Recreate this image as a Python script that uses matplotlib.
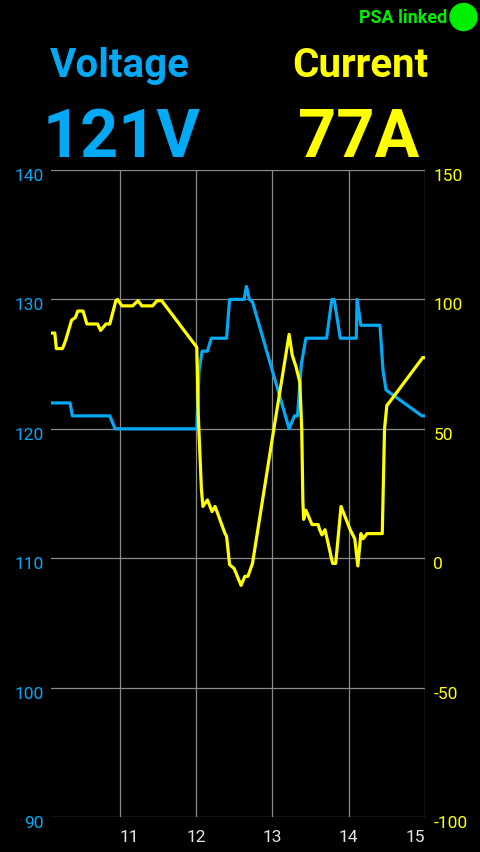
import matplotlib
matplotlib.use("Agg")
import matplotlib.pyplot as plt
from matplotlib.patches import Ellipse
from matplotlib.transforms import ScaledTranslation

# Datos
volt_x = [10.1, 10.35, 10.38, 10.87, 10.94, 12.01, 12.04, 12.08, 12.15, 12.2, 12.4,
          12.44, 12.63, 12.66, 12.7, 12.74, 13.22, 13.29, 13.33, 13.38, 13.44, 13.71,
          13.78, 13.81, 13.89, 14.1, 14.11, 14.16, 14.41, 14.45, 14.49, 14.96, 15.0]
volt_y = [122, 122, 121, 121, 120, 120, 124.5, 126, 126, 127, 127,
          130, 130, 131, 130, 129.8, 120, 121, 121, 125, 127, 127,
          130, 130, 127, 127, 130, 128, 128, 124.5, 123, 121, 121]

curr_x = [10.1, 10.15, 10.17, 10.25, 10.29, 10.37, 10.42, 10.45, 10.52, 10.57, 10.71,
          10.75, 10.82, 10.87, 10.95, 10.97, 11.03, 11.17, 11.24, 11.29, 11.43, 11.49,
          11.55, 12.01, 12.03, 12.07, 12.09, 12.15, 12.21, 12.25, 12.38, 12.4, 12.44,
          12.5, 12.59, 12.64, 12.68, 12.74, 13.02, 13.22, 13.26, 13.31, 13.36, 13.385,
          13.4, 13.41, 13.44, 13.52, 13.6, 13.62, 13.65, 13.69, 13.79, 13.83, 13.9,
          14.02, 14.08, 14.12, 14.16, 14.19, 14.24, 14.44, 14.47, 14.5, 14.54, 14.97, 15.0]
curr_y = [87, 87, 81, 81, 84, 92, 93, 95.5, 95.5, 90.5, 90.5,
          88, 90.5, 90.5, 99.5, 100, 97.5, 97.5, 99.5, 97.5, 97.5, 99.5,
          99.5, 81.5, 55, 27, 20, 22.5, 18, 20, 9.5, 8.5, -2.5,
          -4, -10.5, -7, -7, -2, 50, 86.5, 78.5, 74, 68, 50,
          22, 15, 18.5, 13, 13, 11, 9, 11, -2, -2, 20,
          11, 7.5, -3, 9.5, 7.5, 9.5, 9.5, 50, 59, 60.5, 77.5, 77.5]

volt_ticks = [90, 100, 110, 120, 130, 140]
curr_ticks = [-100, -50, 0, 50, 100, 150]
x_ticks = [11, 12, 13, 14, 15]

voltaje_actual = "121V"
corriente_actual = "77A"

AZUL = "#03a9f4"
AMARILLO = "#ffff00"
VERDE = "#00ee00"
GRIS = "#8a8a8a"

plt.rcParams["font.family"] = ["Roboto", "DejaVu Sans"]
plt.rcParams["axes.unicode_minus"] = False

fig = plt.figure(figsize=(4.8, 8.53), dpi=100, facecolor="black")
ax = fig.add_axes([51 / 480, 35 / 853, 374 / 480, 647 / 853])
ax.set_facecolor("black")
ax2 = ax.twinx()

ax.plot(volt_x, volt_y, color=AZUL, linewidth=2.3, solid_joinstyle="round")
ax2.plot(curr_x, curr_y, color=AMARILLO, linewidth=2.3, solid_joinstyle="round")

ax.set_xlim(10.1, 15)
ax.set_ylim(90, 140)
ax2.set_ylim(-100, 150)

ax.set_xticks(x_ticks)
ax.set_yticks(volt_ticks)
ax2.set_yticks(curr_ticks)
ax.grid(True, color=GRIS, linewidth=0.9)

for a in (ax, ax2):
    for s in a.spines.values():
        s.set_visible(False)

ax.tick_params(axis="y", length=0, pad=5, labelcolor=AZUL, labelsize=12.5)
ax.tick_params(axis="x", length=0, pad=9, labelcolor="#e6e6e6", labelsize=12.5)
ax2.tick_params(axis="y", length=0, pad=6, labelcolor=AMARILLO, labelsize=12.5)

# etiquetas del eje y un poco por debajo de la linea, como en la app
bajar = ScaledTranslation(0, -4 / 100, fig.dpi_scale_trans)
for lab in ax.get_yticklabels() + ax2.get_yticklabels():
    lab.set_transform(lab.get_transform() + bajar)

etiquetas = ax.get_xticklabels()
etiquetas[0].set_horizontalalignment("left")
etiquetas[-1].set_horizontalalignment("right")

# Cabecera
fig.text(0.25, 1 - 77 / 853, "Voltage", color=AZUL, fontsize=29, fontweight="bold",
         ha="center", va="baseline")
fig.text(0.75, 1 - 77 / 853, "Current", color=AMARILLO, fontsize=29, fontweight="bold",
         ha="center", va="baseline")
fig.text(121 / 480, 1 - 157 / 853, voltaje_actual, color=AZUL, fontsize=48,
         fontweight="bold", ha="center", va="baseline")
fig.text(359 / 480, 1 - 157 / 853, corriente_actual, color=AMARILLO, fontsize=48,
         fontweight="bold", ha="center", va="baseline")

fig.text(447 / 480, 1 - 18 / 853, "PSA linked", color=VERDE, fontsize=13,
         fontweight="bold", ha="right", va="center")
fig.add_artist(Ellipse((463.5 / 480, 1 - 18 / 853), 27 / 480, 27 / 853,
                       transform=fig.transFigure, color=VERDE))

fig.savefig("out.png", dpi=100, facecolor="black")
